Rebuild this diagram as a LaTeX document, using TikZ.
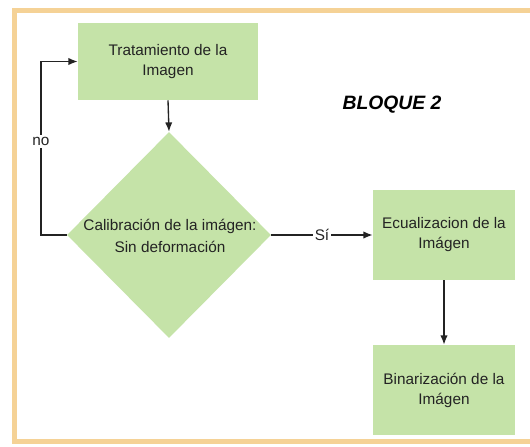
\documentclass[tikz,border=0pt]{standalone}
\usepackage{fontspec}
\setmainfont{Liberation Sans}
\usetikzlibrary{shapes.geometric,arrows.meta}
\definecolor{boxgreen}{RGB}{197,227,168}
\definecolor{framebeige}{RGB}{245,210,150}
\definecolor{inkgray}{RGB}{35,35,35}
\begin{document}
\begin{tikzpicture}[x=0.75pt,y=-0.75pt,
  procbox/.style={rectangle,fill=boxgreen,minimum width=#1,minimum height=67.5pt,
    align=center,text=inkgray,font=\fontsize{11.5}{15}\selectfont},
  decision/.style={diamond,fill=boxgreen,minimum width=153pt,minimum height=154.5pt,inner sep=0pt},
  flow/.style={draw=inkgray,line width=1pt,-{Latex[length=7pt,width=5.5pt]}},
  edgelabel/.style={fill=white,inner sep=1.5pt,text=inkgray,font=\fontsize{11.5}{14}\selectfont}]
\useasboundingbox (0,0) rectangle (530,446);
\clip (0,0) rectangle (530,446);
\fill[white] (0,0) rectangle (530,446);
\draw[framebeige,line width=4pt] (14.5,10.5) rectangle (560,441.5);

% boxes
\node[procbox=135pt,minimum height=57.75pt] (trat) at (168,61.5) {Tratamiento de la\\Imagen};
\node[decision] (calib) at (169,235) {};
\node[align=center,text=inkgray,font=\fontsize{11.5}{17}\selectfont] (calibtext) at (170,236)
  {Calibración de la imágen:\\Sin deformación};
\node[procbox=106.5pt] (ecual) at (444,235) {Ecualizacion de la\\Imágen};
\node[procbox=106.5pt] (binar) at (444,390) {Binarización de la\\Imágen};
\node[font=\bfseries\itshape\fontsize{14.5}{16}\selectfont] (bloque) at (392,105) {BLOQUE 2};

% connectors
\coordinate (nocorner) at (41,235);
\draw[flow] (trat.south) -- (calib.north);
\draw[flow] (calib.east) -- node[edgelabel] {Sí} (ecual.west);
\draw[flow] (calib.west) -- (nocorner) |- node[edgelabel,pos=0.27] {no} (trat.west);
\draw[flow] (ecual.south) -- (binar.north);
\end{tikzpicture}
\end{document}
